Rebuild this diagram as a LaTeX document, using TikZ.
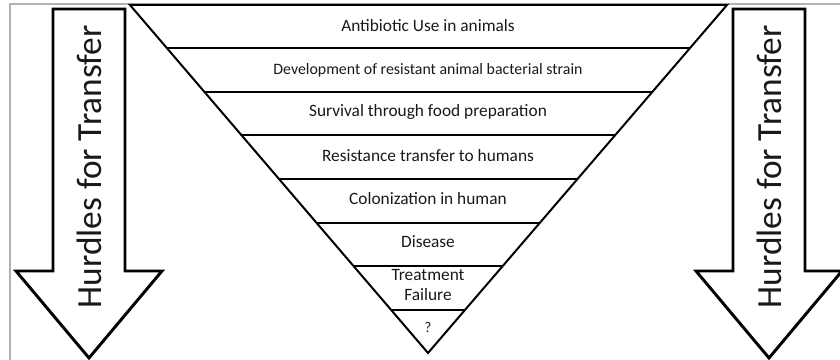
\documentclass[tikz,border=0pt]{standalone}
\usepackage{fontspec}
\setmainfont{Carlito}
\usetikzlibrary{calc}
\tikzset{
  band/.style={font=\fontsize{13}{15.5}\selectfont, text=black!90, align=center},
  hurdle/.style={font=\fontsize{26.5}{30}\selectfont, rotate=90, text=black!90},
  arrowline/.style={line width=2.2pt, line join=miter},
  funnelline/.style={line width=1.5pt, line join=miter},
}
\begin{document}
\begin{tikzpicture}[x=0.75pt,y=-0.75pt]
    \useasboundingbox (0,0) rectangle (840,360);
    \draw[black!30, line width=0.9pt] (10,360) -- (10,4) -- (840,4);
    % funnel
    \coordinate (TL) at (130,5);
    \coordinate (TR) at (727,5);
    \coordinate (tip) at (428,353);
    \draw[funnelline] (TL) -- (TR) -- (tip) -- cycle;
    \foreach \k in {1,...,7}
        \draw[funnelline] ($(tip)!{(8-\k)/8}!(TL)$) -- ($(tip)!{(8-\k)/8}!(TR)$);
    \node[band] (use) at (428,26) {Antibiotic Use in animals};
    \node[band, font=\fontsize{11.9}{14}\selectfont] (strain) at (428,70) {Development of resistant animal bacterial strain};
    \node[band] (food) at (428,112) {Survival through food preparation};
    \node[band] (transfer) at (428,156) {Resistance transfer to humans};
    \node[band] (colon) at (428,199) {Colonization in human};
    \node[band] (disease) at (428,242) {Disease};
    \node[band] (failure) at (428,285) {Treatment\\Failure};
    \node[band, font=\fontsize{11}{13}\selectfont] (unknown) at (428,328) {?};
    % hurdle arrows
    \foreach \cx/\side in {89/left,769/right} {
        \draw[arrowline] (\cx-36,9) -- (\cx+36,9) -- (\cx+36,271) -- (\cx+73,271)
            -- (\cx,358) -- (\cx-73,271) -- (\cx-36,271) -- cycle;
        \node[hurdle] (hurdle-\side) at (\cx,167) {Hurdles for Transfer};
    }
\end{tikzpicture}
\end{document}
